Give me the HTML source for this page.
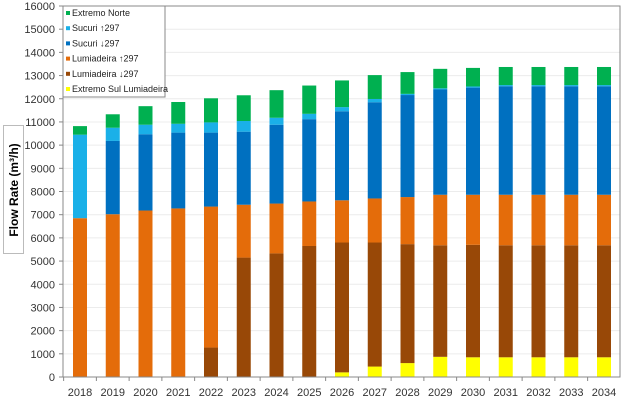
<!DOCTYPE html>
<html><head><meta charset="utf-8"><style>
body{margin:0;background:#fff;font-family:"Liberation Sans",sans-serif}
svg{display:block}
</style></head><body>
<svg id="c" width="624" height="401">
<rect x="3.5" y="125.5" width="20" height="128" fill="#fff" stroke="#bbb"/>
<text transform="translate(18,190) rotate(-90)" text-anchor="middle" font-size="12" font-weight="bold">Flow Rate  (m³/h)</text>
<g id="grid"></g><g id="bars"></g><g id="axes"></g>
<g id="legend"></g>
</svg>
<script>
const years=["2018","2019","2020","2021","2022","2023","2024","2025","2026","2027","2028","2029","2030","2031","2032","2033","2034"];
const extremoSul=[0,0,0,0,0,0,0,0,200,450,600,870,850,850,850,850,850];
const lumiadeiraDown=[0,0,0,0,1270,5150,5330,5650,5600,5350,5130,4810,4850,4830,4830,4830,4830];
const lumiadeiraUp=[6850,7020,7180,7270,6080,2280,2150,1920,1820,1900,2030,2180,2160,2180,2180,2180,2180];
const sucuriDown=[0,3160,3290,3270,3190,3150,3400,3550,3840,4150,4400,4540,4620,4680,4680,4680,4680];
const sucuriUp=[3600,570,410,380,440,460,300,230,180,140,50,50,50,50,50,50,50];
const extremoNorte=[370,580,800,940,1040,1110,1190,1220,1150,1030,940,840,800,780,780,780,780];
const yTicks=[0,1000,2000,3000,4000,5000,6000,7000,8000,9000,10000,11000,12000,13000,14000,15000,16000];
const NS="http://www.w3.org/2000/svg";
const L=63,R=620,T=6,B=377,yMax=16000;
const y=v=>B-(v/yMax)*(B-T);
const step=32.75;
const xc=i=>80+step*i;
function mk(tag,attrs,parent){const e=document.createElementNS(NS,tag);for(const k in attrs)e.setAttribute(k,attrs[k]);parent.appendChild(e);return e;}
const g=document.getElementById('grid'),b=document.getElementById('bars'),a=document.getElementById('axes'),lg=document.getElementById('legend');
yTicks.forEach(t=>{
 const ln=mk('line',{x1:L,x2:R,y1:y(t),y2:y(t),stroke:'#ececec'},g);
 
 
 mk('line',{x1:L-4,x2:L,y1:y(t),y2:y(t),stroke:'#888'},a);
 const tx=mk('text',{x:L-8,y:y(t)+4,'text-anchor':'end','font-size':11,fill:'#333'},a);
 tx.textContent=t;
 
 
});
mk('rect',{x:L,y:T,width:R-L,height:B-T,fill:'none',stroke:'#888'},a);
const series=[
 {n:'Extremo Sul Lumiadeira',d:extremoSul,c:'#ffff00',k:'extremo-sul'},
 {n:'Lumiadeira ↓297',d:lumiadeiraDown,c:'#984807',k:'lumiadeira-down'},
 {n:'Lumiadeira ↑297',d:lumiadeiraUp,c:'#e46c0a',k:'lumiadeira-up'},
 {n:'Sucuri ↓297',d:sucuriDown,c:'#0070c0',k:'sucuri-down'},
 {n:'Sucuri ↑297',d:sucuriUp,c:'#1ab0e8',k:'sucuri-up'},
 {n:'Extremo Norte',d:extremoNorte,c:'#00b050',k:'extremo-norte'}];
const bw=14;
years.forEach((yr,i)=>{
 let acc=0;
 series.forEach(s=>{const v=s.d[i];if(v>0){
  const r=mk('rect',{x:xc(i)-bw/2,y:y(acc+v),width:bw,height:y(acc)-y(acc+v),fill:s.c},b);
  
  }
  acc+=v;});
 mk('line',{x1:xc(i)-step/2,x2:xc(i)-step/2,y1:B,y2:B+4,stroke:'#888'},a);
 const tx=mk('text',{x:xc(i),y:B+19,'text-anchor':'middle','font-size':11,fill:'#333'},a);
 tx.textContent=yr;
 
 
});
mk('rect',{x:63,y:6,width:102,height:91,fill:'#fff',stroke:'#888'},lg);
series.slice().reverse().forEach((s,j)=>{
 const yy=14+j*15.2;
 const sw=mk('rect',{x:66,y:yy-3,width:4,height:4,fill:s.c},lg);
 
 
 const t=mk('text',{x:72,y:yy+2,'font-size':9,fill:'#222'},lg);
 t.textContent=s.n;
 
 
});
</script>
</body></html>
